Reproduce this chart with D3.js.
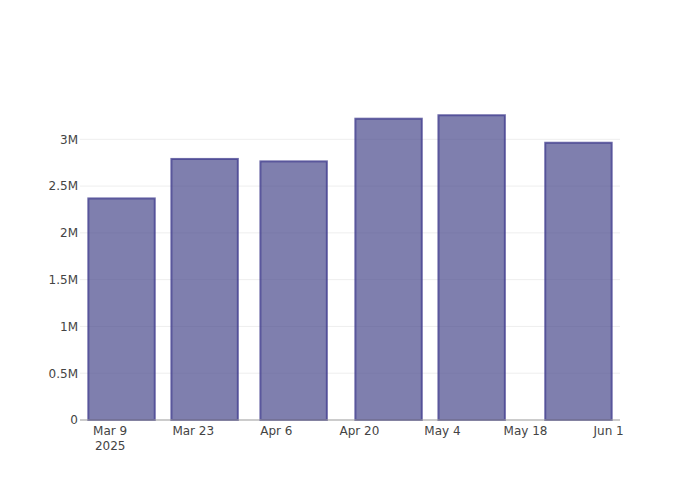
<!DOCTYPE html>
<html>
<head>
<meta charset="utf-8">
<script src="https://cdn.jsdelivr.net/npm/d3@7"></script>
<style>
  html, body { margin: 0; padding: 0; background: #fff; }
  svg { display: block; }
</style>
</head>
<body>
<svg id="chart" width="700" height="500"></svg>
<script>
const dates = ["2025-03-11", "2025-03-25", "2025-04-09", "2025-04-25", "2025-05-09", "2025-05-27"];
const values = [2368000, 2790000, 2764000, 3220000, 3257000, 2963000];
const yTicks = [0, 500000, 1000000, 1500000, 2000000, 2500000, 3000000];
const yTickLabels = ["0", "0.5M", "1M", "1.5M", "2M", "2.5M", "3M"];
const xTicks = ["2025-03-09", "2025-03-23", "2025-04-06", "2025-04-20", "2025-05-04", "2025-05-18", "2025-06-01"];
const xTickLabels = ["Mar 9", "Mar 23", "Apr 6", "Apr 20", "May 4", "May 18", "Jun 1"];

const parse = d3.utcParse("%Y-%m-%d");
const DAY = 864e5;
const W = 700, H = 500;
const m = {l: 80, r: 80, t: 100, b: 80};
const svg = d3.select("#chart");
const font = "'DejaVu Sans', Verdana, sans-serif";

const xd = dates.map(parse);
const halfSlot = 7 * DAY;
const x = d3.scaleUtc()
  .domain([new Date(+xd[0] - halfSlot), new Date(+xd[xd.length - 1] + halfSlot)])
  .range([m.l, W - m.r]);
const ymax = d3.max(values) * 1.05;
const y = d3.scaleLinear().domain([0, ymax]).range([H - m.b, m.t]);

// gridlines
svg.append("g").selectAll("line").data(yTicks.slice(1)).join("line")
  .attr("x1", m.l).attr("x2", W - m.r)
  .attr("y1", d => y(d)).attr("y2", d => y(d))
  .attr("stroke", "#eee").attr("stroke-width", 1);

// bars
const barW = 14 * DAY * 0.8;
svg.append("g").selectAll("rect").data(values).join("rect")
  .attr("x", (d, i) => x(new Date(+xd[i] - barW / 2)))
  .attr("width", (d, i) => x(new Date(+xd[i] + barW / 2)) - x(new Date(+xd[i] - barW / 2)))
  .attr("y", d => y(d))
  .attr("height", d => y(0) - y(d))
  .attr("fill", "rgb(72,72,140)")
  .attr("fill-opacity", 0.7)
  .attr("stroke", "rgb(62,58,140)")
  .attr("stroke-opacity", 0.75)
  .attr("stroke-width", 2);

// x axis line
svg.append("line")
  .attr("x1", m.l).attr("x2", W - m.r)
  .attr("y1", y(0)).attr("y2", y(0))
  .attr("stroke", "#999").attr("stroke-width", 1);

// y axis labels
const yAxis = d3.axisLeft(y).tickValues(yTicks).tickFormat((d, i) => yTickLabels[i]).tickSize(0).tickPadding(2);
const gy = svg.append("g").attr("transform", `translate(${m.l},0)`).call(yAxis);
gy.select(".domain").remove();
gy.selectAll("text").attr("font-family", font).attr("font-size", 12).attr("fill", "#444");

// x axis labels
const xAxis = d3.axisBottom(x).tickValues(xTicks.map(parse)).tickFormat((d, i) => xTickLabels[i]).tickSize(0).tickPadding(6);
const gx = svg.append("g").attr("transform", `translate(0,${y(0)})`).call(xAxis);
gx.select(".domain").remove();
gx.selectAll("text").attr("font-family", font).attr("font-size", 12).attr("fill", "#444");
gx.selectAll(".tick").filter((d, i) => i === 0).select("text")
  .append("tspan").attr("x", 0).attr("dy", "1.3em").text("2025");
</script>
</body>
</html>
